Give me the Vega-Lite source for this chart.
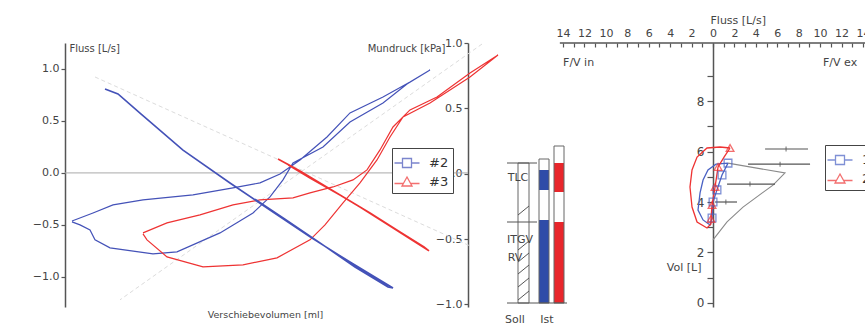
{
  "$schema": "https://vega.github.io/schema/vega-lite/v6.json",
  "width": 800,
  "height": 264,
  "autosize": "none",
  "padding": {"left": 65, "top": 43, "right": 0, "bottom": 19},
  "background": "white",
  "config": {
    "font": "DejaVu Sans",
    "view": {"stroke": null},
    "axis": {"grid": false, "domainColor": "#555", "domainWidth": 1.5, "tickColor": "#555", "tickWidth": 1.2, "labelColor": "#444", "titleColor": "#444", "labelFontSize": 11, "titleFontSize": 10, "titleFontWeight": "normal", "labelFlush": false, "labelOverlap": false}
  },
  "datasets": {
    "guides": [
      {"g": "A", "i": 0, "ml": -42.5, "f": 0.923}, {"g": "A", "i": 1, "ml": 51.25, "f": -0.702},
      {"g": "B", "i": 0, "ml": 54.25, "f": 1.24}, {"g": "B", "i": 1, "ml": -36.25, "f": -1.221}
    ],
    "loops": [
      {"s": "#2", "i": 0, "ml": -48.25, "f": -0.462}, {"s": "#2", "i": 1, "ml": -43, "f": -0.385}, {"s": "#2", "i": 2, "ml": -38, "f": -0.308}, {"s": "#2", "i": 3, "ml": -30.5, "f": -0.26}, {"s": "#2", "i": 4, "ml": -18, "f": -0.212}, {"s": "#2", "i": 5, "ml": -8, "f": -0.144}, {"s": "#2", "i": 6, "ml": -1.25, "f": -0.096}, {"s": "#2", "i": 7, "ml": 3.75, "f": -0.01}, {"s": "#2", "i": 8, "ml": 8.75, "f": 0.125}, {"s": "#2", "i": 9, "ml": 15.5, "f": 0.346}, {"s": "#2", "i": 10, "ml": 21.25, "f": 0.577}, {"s": "#2", "i": 11, "ml": 29.5, "f": 0.731}, {"s": "#2", "i": 12, "ml": 36.25, "f": 0.875}, {"s": "#2", "i": 13, "ml": 41.25, "f": 0.99}, {"s": "#2", "i": 14, "ml": 35.5, "f": 0.856}, {"s": "#2", "i": 15, "ml": 29.5, "f": 0.673}, {"s": "#2", "i": 16, "ml": 21.25, "f": 0.49}, {"s": "#2", "i": 17, "ml": 14.5, "f": 0.25}, {"s": "#2", "i": 18, "ml": 7, "f": 0.096}, {"s": "#2", "i": 19, "ml": 4.5, "f": -0.067}, {"s": "#2", "i": 20, "ml": 1.25, "f": -0.231}, {"s": "#2", "i": 21, "ml": -3, "f": -0.385}, {"s": "#2", "i": 22, "ml": -11.25, "f": -0.577}, {"s": "#2", "i": 23, "ml": -22, "f": -0.76}, {"s": "#2", "i": 24, "ml": -28, "f": -0.779}, {"s": "#2", "i": 25, "ml": -38.75, "f": -0.721}, {"s": "#2", "i": 26, "ml": -42.5, "f": -0.644}, {"s": "#2", "i": 27, "ml": -43.75, "f": -0.548}, {"s": "#2", "i": 28, "ml": -46.25, "f": -0.5}, {"s": "#2", "i": 29, "ml": -48.25, "f": -0.471},
      {"s": "#3", "i": 0, "ml": -30.5, "f": -0.577}, {"s": "#3", "i": 1, "ml": -24.5, "f": -0.481}, {"s": "#3", "i": 2, "ml": -16.25, "f": -0.404}, {"s": "#3", "i": 3, "ml": -8, "f": -0.308}, {"s": "#3", "i": 4, "ml": -1.25, "f": -0.26}, {"s": "#3", "i": 5, "ml": 7, "f": -0.24}, {"s": "#3", "i": 6, "ml": 11.25, "f": -0.192}, {"s": "#3", "i": 7, "ml": 17, "f": -0.135}, {"s": "#3", "i": 8, "ml": 22, "f": -0.067}, {"s": "#3", "i": 9, "ml": 25.5, "f": 0.029}, {"s": "#3", "i": 10, "ml": 28.75, "f": 0.221}, {"s": "#3", "i": 11, "ml": 32, "f": 0.442}, {"s": "#3", "i": 12, "ml": 36.25, "f": 0.606}, {"s": "#3", "i": 13, "ml": 43, "f": 0.731}, {"s": "#3", "i": 14, "ml": 51.25, "f": 0.962}, {"s": "#3", "i": 15, "ml": 58.25, "f": 1.135}, {"s": "#3", "i": 16, "ml": 51.25, "f": 0.923}, {"s": "#3", "i": 17, "ml": 41.25, "f": 0.673}, {"s": "#3", "i": 18, "ml": 34.5, "f": 0.538}, {"s": "#3", "i": 19, "ml": 31.25, "f": 0.346}, {"s": "#3", "i": 20, "ml": 28, "f": 0.125}, {"s": "#3", "i": 21, "ml": 23.75, "f": -0.096}, {"s": "#3", "i": 22, "ml": 19.5, "f": -0.288}, {"s": "#3", "i": 23, "ml": 15, "f": -0.5}, {"s": "#3", "i": 24, "ml": 11.25, "f": -0.644}, {"s": "#3", "i": 25, "ml": 3, "f": -0.817}, {"s": "#3", "i": 26, "ml": -5.5, "f": -0.885}, {"s": "#3", "i": 27, "ml": -15.5, "f": -0.904}, {"s": "#3", "i": 28, "ml": -24.5, "f": -0.808}, {"s": "#3", "i": 29, "ml": -29.5, "f": -0.644}, {"s": "#3", "i": 30, "ml": -30.5, "f": -0.587}
    ],
    "press": [
      {"s": "#2", "i": 0, "ml": -40, "kpa": 0.648}, {"s": "#2", "i": 1, "ml": -36.75, "kpa": 0.61}, {"s": "#2", "i": 2, "ml": -31.25, "kpa": 0.464}, {"s": "#2", "i": 3, "ml": -20.5, "kpa": 0.181}, {"s": "#2", "i": 4, "ml": -8.75, "kpa": -0.071}, {"s": "#2", "i": 5, "ml": 1.25, "kpa": -0.278}, {"s": "#2", "i": 6, "ml": 11.25, "kpa": -0.484}, {"s": "#2", "i": 7, "ml": 21.25, "kpa": -0.676}, {"s": "#2", "i": 8, "ml": 32, "kpa": -0.875}, {"s": "#2", "i": 9, "ml": 30.75, "kpa": -0.867}, {"s": "#2", "i": 10, "ml": 22.5, "kpa": -0.714}, {"s": "#2", "i": 11, "ml": 13.75, "kpa": -0.53}, {"s": "#2", "i": 12, "ml": 5, "kpa": -0.347}, {"s": "#2", "i": 13, "ml": -2.5, "kpa": -0.194},
      {"s": "#3", "i": 0, "ml": 3.25, "kpa": 0.112}, {"s": "#3", "i": 1, "ml": 8.75, "kpa": 0.021}, {"s": "#3", "i": 2, "ml": 16.25, "kpa": -0.117}, {"s": "#3", "i": 3, "ml": 23.75, "kpa": -0.255}, {"s": "#3", "i": 4, "ml": 31.25, "kpa": -0.4}, {"s": "#3", "i": 5, "ml": 36.75, "kpa": -0.507}, {"s": "#3", "i": 6, "ml": 41, "kpa": -0.591}, {"s": "#3", "i": 7, "ml": 39.75, "kpa": -0.561}, {"s": "#3", "i": 8, "ml": 33.75, "kpa": -0.446}, {"s": "#3", "i": 9, "ml": 26.25, "kpa": -0.301}, {"s": "#3", "i": 10, "ml": 18.75, "kpa": -0.163}, {"s": "#3", "i": 11, "ml": 11.25, "kpa": -0.033}, {"s": "#3", "i": 12, "ml": 5.75, "kpa": 0.067}
    ],
    "bars": [
      {"c": "Ist #2", "b0": 3.4, "b1": 4.4, "v0": 0, "v1": 4.15},
      {"c": "Ist #2", "b0": 3.4, "b1": 4.4, "v0": 5.65, "v1": 6.65},
      {"c": "Ist #3", "b0": 4.9, "b1": 5.9, "v0": 0, "v1": 4.05},
      {"c": "Ist #3", "b0": 4.9, "b1": 5.9, "v0": 5.55, "v1": 7.0}
    ],
    "outlines": [
      {"b0": 1.3, "b1": 2.4, "v0": 0, "v1": 7.0},
      {"b0": 3.4, "b1": 4.4, "v0": 0, "v1": 7.2},
      {"b0": 4.9, "b1": 5.9, "v0": 0, "v1": 7.85}
    ],
    "barlines": [
      {"b0": 0.2, "b1": 3.2, "v0": 7.0, "v1": 7.0},
      {"b0": 0.2, "b1": 3.2, "v0": 4.05, "v1": 4.05},
      {"b0": 0.2, "b1": 6.2, "v0": 0, "v1": 0},
      {"b0": 1.3, "b1": 2.4, "v0": 4.4, "v1": 4.85},
      {"b0": 1.3, "b1": 2.4, "v0": 2.65, "v1": 3.1},
      {"b0": 1.3, "b1": 2.4, "v0": 2.05, "v1": 2.5},
      {"b0": 1.3, "b1": 2.4, "v0": 1.45, "v1": 1.9},
      {"b0": 1.3, "b1": 2.4, "v0": 0.8, "v1": 1.25},
      {"b0": 1.3, "b1": 2.4, "v0": 0.15, "v1": 0.6}
    ],
    "barlabels": [
      {"t": "TLC", "b": 1.3, "v": 6.25},
      {"t": "ITGV", "b": 1.5, "v": 3.15},
      {"t": "RV", "b": 1.0, "v": 2.25},
      {"t": "Soll", "b": 1.0, "v": -0.85},
      {"t": "Ist", "b": 4.2, "v": -0.85}
    ],
    "pred": [
      {"i": 0, "flow": 1.4, "vol": 5.54}, {"i": 1, "flow": 6.72, "vol": 5.15}, {"i": 2, "flow": 5.6, "vol": 4.67}, {"i": 3, "flow": 2.8, "vol": 3.8}, {"i": 4, "flow": 1.31, "vol": 3.21}, {"i": 5, "flow": 0, "vol": 2.5}
    ],
    "ranges": [
      {"v": 6.1, "lo": 4.86, "hi": 8.87, "mid": 6.82},
      {"v": 5.5, "lo": 3.27, "hi": 9.06, "mid": 6.26},
      {"v": 4.71, "lo": 1.31, "hi": 5.79, "mid": 3.45},
      {"v": 4.0, "lo": 0.19, "hi": 2.24, "mid": 1.2}
    ],
    "fv": [
      {"s": "1", "i": 0, "flow": 1.4, "vol": 5.54}, {"s": "1", "i": 1, "flow": 0.84, "vol": 5.07}, {"s": "1", "i": 2, "flow": 0.37, "vol": 4.48}, {"s": "1", "i": 3, "flow": 0, "vol": 4.0}, {"s": "1", "i": 4, "flow": -0.09, "vol": 3.37}, {"s": "1", "i": 5, "flow": -0.28, "vol": 3.09}, {"s": "1", "i": 6, "flow": -0.93, "vol": 3.29}, {"s": "1", "i": 7, "flow": -1.4, "vol": 3.68}, {"s": "1", "i": 8, "flow": -1.21, "vol": 4.36}, {"s": "1", "i": 9, "flow": -0.93, "vol": 4.87}, {"s": "1", "i": 10, "flow": -0.47, "vol": 5.27}, {"s": "1", "i": 11, "flow": 0.28, "vol": 5.5}, {"s": "1", "i": 12, "flow": 1.4, "vol": 5.54},
      {"s": "2", "i": 0, "flow": 1.59, "vol": 6.14}, {"s": "2", "i": 1, "flow": 0.65, "vol": 6.18}, {"s": "2", "i": 2, "flow": -0.56, "vol": 6.14}, {"s": "2", "i": 3, "flow": -1.49, "vol": 5.78}, {"s": "2", "i": 4, "flow": -1.96, "vol": 5.27}, {"s": "2", "i": 5, "flow": -2.15, "vol": 4.59}, {"s": "2", "i": 6, "flow": -1.96, "vol": 3.8}, {"s": "2", "i": 7, "flow": -1.49, "vol": 3.21}, {"s": "2", "i": 8, "flow": -0.56, "vol": 2.97}, {"s": "2", "i": 9, "flow": -0.19, "vol": 3.13}, {"s": "2", "i": 10, "flow": -0.19, "vol": 3.33}, {"s": "2", "i": 11, "flow": -0.09, "vol": 3.88}, {"s": "2", "i": 12, "flow": 0.19, "vol": 4.59}, {"s": "2", "i": 13, "flow": 0.47, "vol": 5.39}, {"s": "2", "i": 14, "flow": 1.03, "vol": 5.78}, {"s": "2", "i": 15, "flow": 1.59, "vol": 6.14}
    ],
    "fvmarks": [
      {"s": "1", "flow": 1.4, "vol": 5.54}, {"s": "1", "flow": 0.84, "vol": 5.07}, {"s": "1", "flow": 0.37, "vol": 4.48}, {"s": "1", "flow": 0, "vol": 4.0}, {"s": "1", "flow": -0.09, "vol": 3.37},
      {"s": "2", "flow": 1.59, "vol": 6.14}, {"s": "2", "flow": 0.47, "vol": 5.39}, {"s": "2", "flow": 0.19, "vol": 4.59}, {"s": "2", "flow": -0.09, "vol": 3.88}, {"s": "2", "flow": -0.19, "vol": 3.33}
    ],
    "fvtext": [
      {"t": "F/V in", "flow": -14.0, "vol": 9.5},
      {"t": "F/V ex", "flow": 10.27, "vol": 9.5}
    ],
    "leg1": [{"s": "#2"}, {"s": "#3"}],
    "leg3": [{"s": "1"}, {"s": "2"}]
  },
  "resolve": {
    "scale": {"x": "independent", "y": "independent", "color": "independent", "shape": "independent"},
    "axis": {"x": "independent", "y": "independent"},
    "legend": {"color": "independent", "shape": "independent"}
  },
  "layer": [
    {
      "data": {"name": "guides"},
      "mark": {"type": "line", "strokeDash": [4, 3], "color": "#dcdcdc", "strokeWidth": 1},
      "encoding": {
        "x": {"field": "ml", "type": "quantitative", "scale": {"domain": [-50, 150], "nice": false, "zero": false}, "axis": null},
        "y": {"field": "f", "type": "quantitative", "scale": {"domain": [-1.29, 1.25], "nice": false, "zero": false}, "axis": null},
        "detail": {"field": "g"},
        "order": {"field": "i", "type": "quantitative"}
      }
    },
    {
      "data": {"values": [{}]},
      "mark": {"type": "rule", "color": "#aaa", "strokeWidth": 1},
      "encoding": {
        "x": {"datum": -50, "type": "quantitative", "scale": {"domain": [-50, 150], "nice": false, "zero": false}, "axis": null},
        "x2": {"datum": 50.75},
        "y": {"datum": 0, "type": "quantitative", "scale": {"domain": [-1.29, 1.25], "nice": false, "zero": false}, "axis": null}
      }
    },
    {
      "data": {"name": "loops"},
      "mark": {"type": "line", "strokeWidth": 1.2},
      "encoding": {
        "x": {"field": "ml", "type": "quantitative", "scale": {"domain": [-50, 150], "nice": false, "zero": false},
              "axis": {"orient": "bottom", "labels": false, "ticks": false, "domain": false, "title": "Verschiebevolumen [ml]", "titleX": 200, "titleY": 7, "titleBaseline": "middle", "titleFontSize": 9.5}},
        "y": {"field": "f", "type": "quantitative", "scale": {"domain": [-1.29, 1.25], "nice": false, "zero": false},
              "axis": {"orient": "left", "values": [-1, -0.5, 0, 0.5, 1], "format": ".1f", "tickSize": 4, "labelPadding": 2, "title": "Fluss [L/s]", "titleAngle": 0, "titleAlign": "left", "titleBaseline": "middle", "titleX": 4, "titleY": 5}},
        "color": {"field": "s", "type": "nominal", "scale": {"domain": ["#2", "#3"], "range": ["#4452b8", "#ee3333"]}, "legend": null},
        "order": {"field": "i", "type": "quantitative"}
      }
    },
    {
      "data": {"name": "press"},
      "mark": {"type": "line", "strokeWidth": 1.6},
      "encoding": {
        "x": {"field": "ml", "type": "quantitative", "scale": {"domain": [-50, 150], "nice": false, "zero": false}, "axis": null},
        "y": {"field": "kpa", "type": "quantitative", "scale": {"domain": [-1.02, 1.0], "nice": false, "zero": false},
              "axis": {"orient": "left", "offset": -403, "values": [-1, -0.5, 0, 0.5, 1], "format": ".1f", "tickSize": 4, "labelPadding": 2, "title": "Mundruck [kPa]", "titleAngle": 0, "titleAlign": "right", "titleBaseline": "middle", "titleX": -23, "titleY": 5}},
        "color": {"field": "s", "type": "nominal", "scale": {"domain": ["#2", "#3"], "range": ["#4452b8", "#ee3333"]}, "legend": null},
        "order": {"field": "i", "type": "quantitative"}
      }
    },
    {
      "data": {"name": "leg1"},
      "mark": {"type": "point", "filled": false, "clip": true, "strokeWidth": 1.3},
      "encoding": {
        "x": {"datum": 600, "type": "quantitative", "scale": {"domain": [-50, 150], "nice": false, "zero": false}, "axis": null},
        "y": {"datum": 0, "type": "quantitative", "scale": {"domain": [-1.29, 1.25], "nice": false, "zero": false}, "axis": null},
        "color": {"field": "s", "type": "nominal", "scale": {"domain": ["#2", "#3"], "range": ["#4452b8", "#ee3333"]},
                  "legend": {"orient": "none", "legendX": 327, "legendY": 105, "title": null, "symbolSize": 400, "symbolStrokeWidth": 1.3, "labelFontSize": 13, "labelColor": "#333", "labelOffset": 11, "strokeColor": "#444", "fillColor": "white", "padding": 4, "rowPadding": 0}},
        "shape": {"field": "s", "type": "nominal", "scale": {"domain": ["#2", "#3"], "range": ["M-1.25,0H-0.45M0.45,0H1.25M-0.45,-0.45H0.45V0.45H-0.45Z", "M-1.25,0.15H-0.36M0.36,0.15H1.25M0,-0.5L0.5,0.4H-0.5Z"]},
                  "legend": {"orient": "none", "legendX": 327, "legendY": 105, "title": null, "symbolSize": 400, "symbolStrokeWidth": 1.3, "labelFontSize": 13, "labelColor": "#333", "labelOffset": 11, "strokeColor": "#444", "fillColor": "white", "padding": 4, "rowPadding": 0}}
      }
    },
    {
      "data": {"name": "bars"},
      "mark": {"type": "rect"},
      "encoding": {
        "x": {"field": "b0", "type": "quantitative", "scale": {"domain": [-44, 36], "nice": false, "zero": false}, "axis": null},
        "x2": {"field": "b1"},
        "y": {"field": "v0", "type": "quantitative", "scale": {"domain": [-0.2, 13], "nice": false, "zero": false}, "axis": null},
        "y2": {"field": "v1"},
        "color": {"field": "c", "type": "nominal", "scale": {"domain": ["Ist #2", "Ist #3"], "range": ["#2f4ca8", "#e8262b"]}, "legend": null}
      }
    },
    {
      "data": {"name": "outlines"},
      "mark": {"type": "rect", "filled": false, "stroke": "#666", "strokeWidth": 1},
      "encoding": {
        "x": {"field": "b0", "type": "quantitative", "scale": {"domain": [-44, 36], "nice": false, "zero": false}, "axis": null},
        "x2": {"field": "b1"},
        "y": {"field": "v0", "type": "quantitative", "scale": {"domain": [-0.2, 13], "nice": false, "zero": false}, "axis": null},
        "y2": {"field": "v1"}
      }
    },
    {
      "data": {"name": "barlines"},
      "mark": {"type": "rule", "color": "#555", "strokeWidth": 1},
      "encoding": {
        "x": {"field": "b0", "type": "quantitative", "scale": {"domain": [-44, 36], "nice": false, "zero": false}, "axis": null},
        "x2": {"field": "b1"},
        "y": {"field": "v0", "type": "quantitative", "scale": {"domain": [-0.2, 13], "nice": false, "zero": false}, "axis": null},
        "y2": {"field": "v1"}
      }
    },
    {
      "data": {"name": "barlabels"},
      "mark": {"type": "text", "fontSize": 11, "color": "#444", "baseline": "middle", "align": "center"},
      "encoding": {
        "x": {"field": "b", "type": "quantitative", "scale": {"domain": [-44, 36], "nice": false, "zero": false}, "axis": null},
        "y": {"field": "v", "type": "quantitative", "scale": {"domain": [-0.2, 13], "nice": false, "zero": false}, "axis": null},
        "text": {"field": "t"}
      }
    },
    {
      "data": {"name": "pred"},
      "mark": {"type": "line", "color": "#8a8a8a", "strokeWidth": 1.1},
      "encoding": {
        "x": {"field": "flow", "type": "quantitative", "scale": {"domain": [-60.5, 14.19], "nice": false, "zero": false},
              "axis": {"orient": "top", "values": [-14, -13, -12, -11, -10, -9, -8, -7, -6, -5, -4, -3, -2, -1, 0, 1, 2, 3, 4, 5, 6, 7, 8, 9, 10, 11, 12, 13, 14], "labelExpr": "datum.value % 2 === 0 ? format(abs(datum.value), 'd') : ''", "domain": false, "tickSize": -4, "labelPadding": 9, "labelFontSize": 11, "title": "Fluss [L/s]", "titleAngle": 0, "titleAlign": "left", "titleBaseline": "middle", "titleX": 645, "titleY": -23, "titleFontSize": 11}},
        "y": {"field": "vol", "type": "quantitative", "scale": {"domain": [-0.16, 10.3], "nice": false, "zero": false},
              "axis": {"orient": "left", "offset": -648, "values": [0, 1, 2, 3, 4, 5, 6, 7, 8, 9], "labelExpr": "datum.value % 2 === 0 ? datum.label : ''", "tickSize": 6, "labelPadding": 3, "labelFontSize": 12, "title": "Vol [L]", "titleAngle": 0, "titleAlign": "right", "titleBaseline": "middle", "titleX": -12, "titleY": 224, "titleFontSize": 11}},
        "order": {"field": "i", "type": "quantitative"}
      }
    },
    {
      "data": {"values": [{}]},
      "mark": {"type": "rule", "color": "#555", "strokeWidth": 1.5},
      "encoding": {
        "x": {"datum": -14.3, "type": "quantitative", "scale": {"domain": [-60.5, 14.19], "nice": false, "zero": false}, "axis": null},
        "x2": {"datum": 14.3},
        "y": {"datum": 10.3, "type": "quantitative", "scale": {"domain": [-0.16, 10.3], "nice": false, "zero": false}, "axis": null}
      }
    },
    {
      "data": {"name": "ranges"},
      "mark": {"type": "rule", "color": "#555", "strokeWidth": 1.2},
      "encoding": {
        "x": {"field": "lo", "type": "quantitative", "scale": {"domain": [-60.5, 14.19], "nice": false, "zero": false}, "axis": null},
        "x2": {"field": "hi"},
        "y": {"field": "v", "type": "quantitative", "scale": {"domain": [-0.16, 10.3], "nice": false, "zero": false}, "axis": null}
      }
    },
    {
      "data": {"name": "ranges"},
      "mark": {"type": "tick", "orient": "vertical", "color": "#555", "size": 5, "thickness": 1.2},
      "encoding": {
        "x": {"field": "mid", "type": "quantitative", "scale": {"domain": [-60.5, 14.19], "nice": false, "zero": false}, "axis": null},
        "y": {"field": "v", "type": "quantitative", "scale": {"domain": [-0.16, 10.3], "nice": false, "zero": false}, "axis": null}
      }
    },
    {
      "data": {"name": "fv"},
      "mark": {"type": "line", "strokeWidth": 1.3},
      "encoding": {
        "x": {"field": "flow", "type": "quantitative", "scale": {"domain": [-60.5, 14.19], "nice": false, "zero": false}, "axis": null},
        "y": {"field": "vol", "type": "quantitative", "scale": {"domain": [-0.16, 10.3], "nice": false, "zero": false}, "axis": null},
        "color": {"field": "s", "type": "nominal", "scale": {"domain": ["1", "2"], "range": ["#4a62c4", "#ee3333"]}, "legend": null},
        "order": {"field": "i", "type": "quantitative"}
      }
    },
    {
      "data": {"name": "fvmarks"},
      "mark": {"type": "point", "filled": false, "size": 60, "strokeWidth": 1.3},
      "encoding": {
        "x": {"field": "flow", "type": "quantitative", "scale": {"domain": [-60.5, 14.19], "nice": false, "zero": false}, "axis": null},
        "y": {"field": "vol", "type": "quantitative", "scale": {"domain": [-0.16, 10.3], "nice": false, "zero": false}, "axis": null},
        "color": {"field": "s", "type": "nominal", "scale": {"domain": ["1", "2"], "range": ["#4a62c4", "#ee3333"]}, "legend": null},
        "shape": {"field": "s", "type": "nominal", "scale": {"domain": ["1", "2"], "range": ["square", "triangle-up"]}, "legend": null}
      }
    },
    {
      "data": {"name": "leg3"},
      "mark": {"type": "point", "filled": false, "clip": true, "strokeWidth": 1.3},
      "encoding": {
        "x": {"datum": 100, "type": "quantitative", "scale": {"domain": [-60.5, 14.19], "nice": false, "zero": false}, "axis": null},
        "y": {"datum": 0, "type": "quantitative", "scale": {"domain": [-0.16, 10.3], "nice": false, "zero": false}, "axis": null},
        "color": {"field": "s", "type": "nominal", "scale": {"domain": ["1", "2"], "range": ["#4a62c4", "#ee3333"]},
                  "legend": {"orient": "none", "legendX": 760, "legendY": 102, "title": null, "symbolSize": 400, "symbolStrokeWidth": 1.3, "labelFontSize": 13, "labelColor": "#333", "labelOffset": 11, "strokeColor": "#444", "fillColor": "white", "padding": 4, "rowPadding": 0}},
        "shape": {"field": "s", "type": "nominal", "scale": {"domain": ["1", "2"], "range": ["M-1.25,0H-0.45M0.45,0H1.25M-0.45,-0.45H0.45V0.45H-0.45Z", "M-1.25,0.15H-0.36M0.36,0.15H1.25M0,-0.5L0.5,0.4H-0.5Z"]},
                  "legend": {"orient": "none", "legendX": 760, "legendY": 102, "title": null, "symbolSize": 400, "symbolStrokeWidth": 1.3, "labelFontSize": 13, "labelColor": "#333", "labelOffset": 11, "strokeColor": "#444", "fillColor": "white", "padding": 4, "rowPadding": 0}}
      }
    },
    {
      "data": {"name": "fvtext"},
      "mark": {"type": "text", "fontSize": 11, "color": "#444", "align": "left", "baseline": "middle"},
      "encoding": {
        "x": {"field": "flow", "type": "quantitative", "scale": {"domain": [-60.5, 14.19], "nice": false, "zero": false}, "axis": null},
        "y": {"field": "vol", "type": "quantitative", "scale": {"domain": [-0.16, 10.3], "nice": false, "zero": false}, "axis": null},
        "text": {"field": "t"}
      }
    }
  ]
}
